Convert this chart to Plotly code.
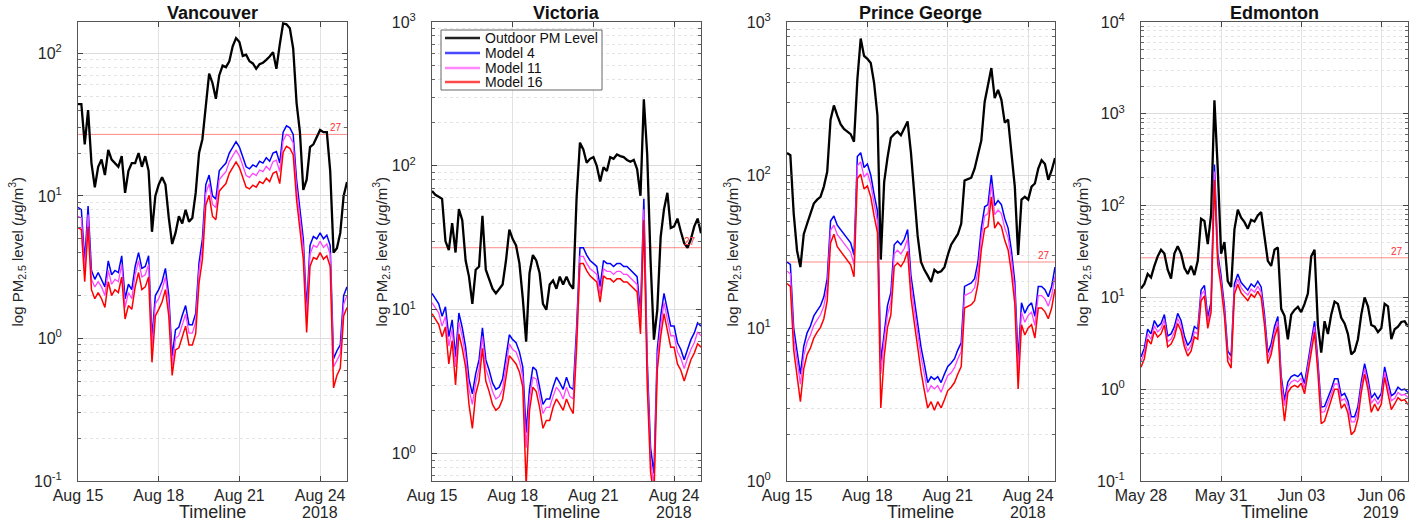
import math
import pandas as pd
import plotly.graph_objects as go

# ---------------- data (3-hourly readings) ----------------
cities = ["Vancouver", "Victoria", "Prince George", "Edmonton"]
start_dates = ["2018-08-15", "2018-08-15", "2018-08-15", "2019-05-28"]
end_dates = ["2018-08-25", "2018-08-25", "2018-08-25", "2019-06-07"]
years = ["2018", "2018", "2018", "2019"]
step_hours = 3
threshold = 27

tick_dates = [
    ["2018-08-15", "2018-08-18", "2018-08-21", "2018-08-24"],
    ["2018-08-15", "2018-08-18", "2018-08-21", "2018-08-24"],
    ["2018-08-15", "2018-08-18", "2018-08-21", "2018-08-24"],
    ["2019-05-28", "2019-05-31", "2019-06-03", "2019-06-06"],
]
tick_labels = [
    ["Aug 15", "Aug 18", "Aug 21", "Aug 24"],
    ["Aug 15", "Aug 18", "Aug 21", "Aug 24"],
    ["Aug 15", "Aug 18", "Aug 21", "Aug 24"],
    ["May 28", "May 31", "Jun 03", "Jun 06"],
]
y_log_ranges = [(-1, 2.22), (-0.19, 3), (0, 3), (-1, 4)]

van_outdoor = [44, 44, 23, 40, 17, 11.5, 16, 18, 14, 21, 18, 17, 16, 19, 10.5, 15, 17, 17, 20, 16,
               19, 15, 5.6, 10, 12, 13.5, 12, 7, 4.6, 5.5, 7.2, 6.4, 8, 6.6, 7, 10.5, 20, 25, 45, 72,
               62, 48, 70, 82, 80, 88, 112, 128, 120, 96, 98, 88, 85, 78, 84, 86, 90, 95, 102, 78,
               115, 162, 160, 150, 108, 45, 28, 11, 13, 22, 23, 26, 29, 28, 28, 15, 4.0, 4.3, 5.5, 10, 12.5]
van_m4 = [8.3, 8.0, 3.5, 8.5, 3.0, 2.6, 2.9, 2.6, 2.3, 3.5, 2.8, 3.0, 2.9, 3.8, 1.9, 2.4, 2.2, 3.2, 4.0, 3.1,
          3.2, 3.8, 1.0, 2.0, 2.2, 2.5, 3.1, 2.0, 0.75, 1.15, 1.2, 1.45, 1.7, 1.25, 1.25, 1.5, 3.4, 5.0, 12, 14,
          10, 9.5, 15, 16, 17, 20, 22, 24, 22, 18.5, 16, 15.5, 16.5, 16, 17.5, 17, 18.5, 17.5, 20, 20.5,
          17, 28, 31, 30, 27, 13, 8, 5, 1.6, 4.5, 5.2, 5.0, 5.5, 5.0, 5.3, 4.5, 0.72, 0.82, 0.9, 2.0, 2.3]
van_m11 = [7.2, 7.0, 3.0, 7.4, 2.6, 2.3, 2.5, 2.3, 2.0, 3.0, 2.4, 2.6, 2.5, 3.3, 1.65, 2.1, 1.9, 2.8, 3.5, 2.7,
           2.8, 3.3, 0.87, 1.75, 1.9, 2.2, 2.7, 1.75, 0.65, 1.0, 1.05, 1.26, 1.48, 1.09, 1.09, 1.3, 3.0, 4.35, 10.4, 12.2,
           8.7, 8.3, 13, 13.9, 14.8, 17.4, 19.1, 20.9, 19.1, 16.1, 13.9, 13.5, 14.4, 13.9, 15.2, 14.8, 16.1, 15.2, 17.4, 17.8,
           14.8, 24.4, 27, 26.1, 23.5, 11.3, 7.0, 4.35, 1.39, 3.9, 4.5, 4.35, 4.8, 4.35, 4.6, 3.9, 0.63, 0.71, 0.78, 1.74, 2.0]
van_m16 = [6.0, 5.8, 2.5, 6.1, 2.2, 1.9, 2.1, 1.9, 1.65, 2.5, 2.0, 2.2, 2.1, 2.7, 1.37, 1.7, 1.6, 2.3, 2.9, 2.2,
           2.3, 2.7, 0.68, 1.44, 1.6, 1.8, 2.2, 1.44, 0.55, 0.83, 0.86, 1.04, 1.22, 0.9, 0.9, 1.08, 2.45, 3.6, 8.6, 10.1,
           7.2, 6.8, 10.8, 11.5, 12.2, 14.4, 15.8, 17.3, 15.8, 13.3, 11.5, 11.2, 11.9, 11.5, 12.6, 12.2, 13.3, 12.6, 14.4, 14.8,
           12.2, 20.2, 22.3, 21.6, 19.4, 9.4, 5.8, 3.6, 1.1, 3.2, 3.7, 3.6, 4.0, 3.6, 3.8, 3.2, 0.45, 0.55, 0.62, 1.44, 1.65]

vic_outdoor = [67, 63, 61, 59, 30, 26, 40, 25, 50, 42, 22, 17, 11, 19, 20, 45, 19, 16, 14, 13,
               14, 15, 22, 36, 31, 28, 21, 12, 6, 18, 24, 22, 18, 11, 10, 15, 16, 14, 17, 15,
               17, 15, 14, 60, 145, 130, 105, 112, 115, 100, 78, 98, 92, 115, 112, 120, 117, 115, 110, 107,
               110, 95, 62, 290, 120, 22, 6.2, 10, 32, 50, 65, 37, 38, 43, 35, 29, 27, 31, 38, 43, 34]
vic_m4 = [13, 12, 11, 9, 10.5, 6.5, 8.5, 4.7, 9.5, 7.5, 5.5, 3.3, 2.6, 3.6, 4.5, 7.5, 4.5, 3.8, 3.1, 2.8,
          2.9, 3.3, 4.7, 6.7, 6.2, 5.9, 5.1, 4.0, 1.4, 2.8, 4.0, 3.8, 2.9, 2.2, 2.4, 2.4, 2.9, 3.4, 3.1, 2.8,
          3.4, 2.9, 2.8, 7.5, 27, 27, 24, 22, 21, 20, 14.5, 22, 21, 21, 20, 21, 21, 20, 20, 19,
          18, 17, 9.5, 59, 4.5, 1.1, 0.73, 5.3, 9, 13, 10, 7.7, 7.7, 5.9, 5.3, 4.5, 5.3, 6.2, 6.9, 8.1, 7.7]
vic_m11 = [11.2, 10.3, 9.5, 7.7, 9.0, 5.6, 7.3, 4.0, 8.2, 6.5, 4.7, 2.8, 2.2, 3.1, 3.9, 6.5, 3.9, 3.3, 2.7, 2.4,
           2.5, 2.8, 4.0, 5.8, 5.3, 5.1, 4.4, 3.4, 1.1, 2.4, 3.4, 3.3, 2.5, 1.9, 2.1, 2.1, 2.5, 2.9, 2.7, 2.4,
           2.9, 2.5, 2.4, 6.5, 23.5, 23.5, 21, 19.3, 18.5, 17.6, 12.8, 19.3, 18.5, 18.5, 17.6, 18.5, 18.5, 17.6, 17.6, 16.7,
           15.8, 15, 8.2, 50, 3.9, 0.9, 0.6, 4.6, 7.7, 11.2, 8.6, 6.6, 6.6, 5.1, 4.6, 3.9, 4.6, 5.3, 5.9, 7.0, 6.6]
vic_m16 = [9.4, 8.6, 7.9, 6.5, 7.6, 4.2, 6.1, 3.0, 6.8, 5.4, 4.0, 2.2, 1.5, 2.6, 3.2, 5.4, 3.2, 2.7, 2.2, 2.0,
           2.1, 2.4, 3.4, 4.8, 4.5, 4.2, 3.7, 2.9, 0.6, 2.0, 2.9, 2.7, 2.1, 1.5, 1.7, 1.7, 2.1, 2.4, 2.2, 2.0,
           2.4, 2.1, 1.9, 5.4, 21, 21, 18.7, 17.2, 16.4, 15.6, 11.3, 17.2, 16.4, 16.4, 15.6, 16.4, 16.4, 15.6, 15.6, 14.8,
           14, 13.3, 6.8, 42, 3.0, 0.75, 0.5, 3.8, 6.5, 9.4, 7.2, 5.5, 5.5, 4.2, 3.8, 3.2, 3.8, 4.5, 5.0, 5.8, 5.5]

pg_outdoor = [139, 135, 56, 32, 25, 41, 48, 56, 65, 69, 72, 84, 105, 230, 285, 245, 215, 200, 192, 185,
              165, 420, 780, 600, 575, 540, 400, 245, 28, 90, 130, 175, 185, 192, 182, 200, 224, 140, 72, 40,
              27, 24, 22, 20, 24, 23, 23.5, 25, 30, 35, 38, 41, 48, 92, 94, 96, 110, 135, 168, 300,
              385, 500, 318, 360, 310, 220, 230, 132, 84, 30, 69, 72, 69, 84, 88, 110, 125, 118, 93, 107, 129]
pg_m4 = [27, 26, 10, 7.2, 5.0, 7.6, 9.3, 10.3, 12, 13, 14, 16, 21, 50, 54, 47, 44, 41, 38, 36,
         30, 132, 140, 112, 118, 100, 75, 58, 6, 9.5, 14, 17, 35, 37, 35, 38, 44, 22, 15, 10.5,
         7.5, 5.8, 4.4, 4.8, 4.6, 4.8, 4.4, 5.0, 5.6, 5.9, 6.3, 7.2, 8, 18.7, 19.2, 19.7, 21, 27, 45, 62,
         64, 100, 63, 68, 64, 52, 45, 32, 20, 6.2, 14.6, 12.5, 13.9, 14.6, 11.9, 18.7, 18.7, 17.8, 16, 18.7, 25]
pg_m11 = [23.5, 22.6, 8.7, 6.3, 4.3, 6.6, 8.1, 9.0, 10.4, 11.3, 12.2, 13.9, 18.3, 43.5, 47, 40.9, 38.3, 35.7, 33.1, 31.3,
          26.1, 115, 122, 97, 103, 87, 65, 50, 5.0, 8.3, 12.2, 14.8, 30.5, 32.2, 30.5, 33.1, 38.3, 19.1, 13.1, 9.1,
          6.5, 5.0, 3.8, 4.2, 4.0, 4.2, 3.8, 4.35, 4.9, 5.1, 5.5, 6.3, 7.0, 16.3, 16.7, 17.1, 18.3, 23.5, 39, 54,
          56, 87, 55, 59, 56, 45, 39, 28, 17.4, 5.2, 12.7, 10.9, 12.1, 12.7, 10.4, 16.3, 16.3, 15.5, 13.9, 16.3, 21.8]
pg_m16 = [19.5, 18.7, 7.2, 5.0, 3.3, 5.4, 6.7, 7.4, 8.6, 9.4, 10.1, 11.5, 15.1, 36, 41, 34, 31.7, 29.5, 27.4, 25.9,
          21.6, 95, 101, 81, 85, 72, 54, 42, 3.0, 6.5, 10.1, 12.2, 25.2, 26.6, 25.2, 27.4, 31.7, 15.8, 10.8, 7.4,
          5.2, 3.9, 3.0, 3.3, 2.9, 3.3, 3.0, 3.4, 3.9, 4.1, 4.4, 5.0, 5.6, 13.5, 13.8, 14.2, 15.1, 19.4, 32.4, 44.6,
          46, 72, 45, 49, 46, 37.4, 32.4, 23, 14.4, 4.0, 10.5, 9.0, 10.0, 10.5, 8.6, 13.5, 13.5, 12.8, 11.5, 13.5, 18]

edm_outdoor = [12.5, 14, 18, 16.5, 22, 28, 33, 30, 20, 16, 30, 36, 30, 21, 18, 22, 17.5, 25, 72, 68,
               38, 80, 1400, 250, 30, 40, 15, 13, 55, 90, 74, 66, 56, 70, 67, 78, 85, 45, 25, 22,
               33, 35, 7.5, 6.3, 3.5, 6.5, 7.3, 7.9, 6.9, 8.5, 11, 28, 33, 5, 2.5, 5.5, 4, 6.5, 9, 8.5,
               6, 5.2, 4, 2.4, 2.6, 3.5, 6.5, 10, 8, 5, 4.8, 4.2, 4.6, 8.5, 8, 3.5, 4.5, 4.8, 5.4, 5.5, 4.8]
edm_m4 = [2.25, 2.8, 4.5, 4.0, 5.6, 4.8, 5.2, 6.5, 3.8, 4.0, 4.8, 6.7, 5.6, 3.8, 3.0, 3.4, 4.8, 4.5, 12, 13.5,
          6, 9, 280, 30, 17, 8, 2.6, 2.3, 14, 18, 14.5, 13, 12, 14, 13, 15, 13, 6.5, 2.5, 3.1,
          4.8, 6.2, 1.4, 0.75, 1.2, 1.37, 1.43, 1.37, 1.5, 1.15, 2.0, 3.4, 5.5, 2.0, 0.64, 0.65, 0.8, 1.0, 1.3, 1.3,
          0.85, 0.9, 0.75, 0.5, 0.5, 0.65, 1.2, 1.9, 1.3, 0.8, 0.9, 0.78, 0.9, 1.75, 1.2, 0.85, 0.9, 1.05, 0.98, 1.0, 0.92]
edm_m11 = [2.0, 2.5, 4.0, 3.5, 4.9, 4.2, 4.6, 5.7, 3.3, 3.5, 4.2, 5.9, 4.9, 3.3, 2.6, 3.0, 4.2, 4.0, 10.6, 11.9,
           5.3, 7.9, 235, 26.4, 15, 7.0, 2.3, 2.0, 12.3, 15.8, 12.8, 11.4, 10.6, 12.3, 11.4, 13.2, 11.4, 5.7, 2.2, 2.7,
           4.2, 5.5, 1.23, 0.66, 1.06, 1.2, 1.26, 1.2, 1.32, 1.01, 1.76, 3.0, 4.8, 1.76, 0.56, 0.57, 0.7, 0.88, 1.14, 1.14,
           0.75, 0.79, 0.66, 0.44, 0.44, 0.57, 1.06, 1.67, 1.14, 0.7, 0.79, 0.69, 0.79, 1.54, 1.06, 0.75, 0.79, 0.92, 0.86, 0.88, 0.81]
edm_m16 = [1.73, 2.15, 3.5, 3.1, 4.3, 3.7, 4.0, 5.0, 2.9, 3.1, 3.7, 5.2, 4.3, 2.9, 2.3, 2.6, 3.7, 3.5, 9.2, 10.4,
           4.6, 6.9, 190, 23, 13.1, 6.2, 2.0, 1.7, 10.8, 13.9, 11.2, 10, 9.2, 10.8, 10, 11.6, 10, 5.0, 1.9, 2.4,
           3.7, 4.8, 1.0, 0.45, 0.92, 1.05, 1.1, 1.05, 1.16, 0.89, 1.54, 2.6, 4.2, 1.5, 0.42, 0.45, 0.58, 0.77, 1.0, 1.0,
           0.62, 0.69, 0.55, 0.32, 0.35, 0.48, 0.92, 1.46, 1.0, 0.56, 0.69, 0.58, 0.69, 1.35, 0.92, 0.6, 0.69, 0.81, 0.75, 0.77, 0.68]

outdoor = [van_outdoor, vic_outdoor, pg_outdoor, edm_outdoor]
model4 = [van_m4, vic_m4, pg_m4, edm_m4]
model11 = [van_m11, vic_m11, pg_m11, edm_m11]
model16 = [van_m16, vic_m16, pg_m16, edm_m16]

series_names = ["Outdoor PM Level", "Model 4", "Model 11", "Model 16"]
series_colors = ["#000000", "#0000ff", "#ff44ff", "#ff0000"]
legend_colors = ["#222222", "#4848ff", "#ff88ff", "#ff4848"]
series_widths = [2.3, 1.5, 1.3, 1.5]

# ---------------- layout geometry (pixels) ----------------
W, H = 1421, 524
plot_left = [78, 432, 787, 1141]
plot_right = [347, 701, 1055, 1408]
plot_top, plot_bottom = 22, 481
ylabel_x = [17, 381, 732, 1082]
legend_box = (441, 30, 602, 90)          # x0, y0, x1, y1 (px from top-left)
legend_row_y = [38, 53, 68, 82]

FONT = "Liberation Sans, Arial, Helvetica, sans-serif"
TXT = "#262626"


def px(x):
    return x / W


def py(y):
    return (H - y) / H


fig = go.Figure()
annotations = []
shapes = []
layout = dict(
    width=W, height=H,
    margin=dict(l=0, r=0, t=0, b=0, autoexpand=False),
    paper_bgcolor="white", plot_bgcolor="white",
    font=dict(family=FONT, color=TXT),
    showlegend=False,
)

for k in range(4):
    n = len(outdoor[k])
    times = pd.date_range(start_dates[k], periods=n, freq=f"{step_hours}h")
    xs = f"x{k + 1}" if k else "x"
    ys = f"y{k + 1}" if k else "y"
    xkey = f"xaxis{k + 1}" if k else "xaxis"
    ykey = f"yaxis{k + 1}" if k else "yaxis"

    # threshold line
    fig.add_trace(go.Scatter(
        x=[start_dates[k], end_dates[k]], y=[threshold, threshold], mode="lines",
        line=dict(color="rgba(255,60,60,0.6)", width=1), showlegend=False,
        hoverinfo="skip", xaxis=xs, yaxis=ys))

    for s, data in enumerate([outdoor[k], model4[k], model11[k], model16[k]]):
        fig.add_trace(go.Scatter(
            x=times, y=data, mode="lines", name=series_names[s],
            line=dict(color=series_colors[s], width=series_widths[s]),
            showlegend=False, xaxis=xs, yaxis=ys))

    x0, x1 = px(plot_left[k]), px(plot_right[k])
    y0, y1 = py(plot_bottom), py(plot_top)

    lo, hi = y_log_ranges[k]
    majors = list(range(math.ceil(lo - 1e-9), math.floor(hi + 1e-9) + 1))
    minors = []
    for e in range(math.floor(lo), math.ceil(hi) + 1):
        for m in range(2, 10):
            v = m * 10 ** e
            if lo <= math.log10(v) <= hi:
                minors.append(v)

    layout[xkey] = dict(
        domain=[x0, x1], anchor=ys, type="date", automargin=False,
        range=[start_dates[k], end_dates[k]],
        tickmode="array", tickvals=tick_dates[k], ticktext=tick_labels[k],
        ticks="inside", ticklen=5, tickcolor="#444444",
        showline=True, linecolor="#555555", linewidth=1, mirror="ticks",
        showgrid=True, gridcolor="#e2e2e2", gridwidth=1, zeroline=False,
        tickfont=dict(size=16, color=TXT, family=FONT),
        ticklabelstandoff=0,
    )
    layout[ykey] = dict(
        domain=[y0, y1], anchor=xs, type="log", range=[lo, hi], automargin=False,
        tickmode="array", tickvals=[10 ** e for e in majors],
        ticktext=[f"10<sup>{e}</sup>" for e in majors],
        ticks="inside", ticklen=5, tickcolor="#444444",
        showline=True, linecolor="#555555", linewidth=1, mirror="ticks",
        showgrid=True, gridcolor="#dcdcdc", gridwidth=1, zeroline=False,
        tickfont=dict(size=16, color=TXT, family=FONT),
        ticklabelstandoff=12,
        minor=dict(tickmode="array", tickvals=minors, ticks="inside", ticklen=3,
                   tickcolor="#666666", showgrid=True, gridcolor="#e4e4e4",
                   griddash="dot", gridwidth=1),
    )

    xc = (x0 + x1) / 2
    annotations.append(dict(text=f"<b>{cities[k]}</b>", x=xc, y=py(13),
                            xref="paper", yref="paper", showarrow=False,
                            font=dict(size=18, color="#111111", family=FONT),
                            xanchor="center", yanchor="middle"))
    annotations.append(dict(text="Timeline", x=xc, y=py(512),
                            xref="paper", yref="paper", showarrow=False,
                            font=dict(size=18, color=TXT, family=FONT),
                            xanchor="center", yanchor="middle"))
    annotations.append(dict(text=years[k], x=tick_dates[k][-1], y=py(512),
                            xref=xs, yref="paper", showarrow=False,
                            font=dict(size=16, color=TXT, family=FONT),
                            xanchor="center", yanchor="middle"))
    annotations.append(dict(text="log PM<sub>2.5</sub> level (<i>\u03bc</i>g/m<sup>3</sup>)",
                            x=px(ylabel_x[k]), y=py((plot_top + plot_bottom) / 2),
                            xref="paper", yref="paper", showarrow=False, textangle=-90,
                            font=dict(size=15, color=TXT, family=FONT),
                            xanchor="center", yanchor="middle"))
    annotations.append(dict(text=str(threshold), x=0.99, y=math.log10(threshold),
                            xref=f"{xs} domain", yref=ys, showarrow=False,
                            font=dict(size=10, color="#ff3030", family=FONT),
                            xanchor="right", yanchor="bottom", yshift=-1))

# ---------------- legend (drawn in the Victoria panel) ----------------
bx0, by0, bx1, by1 = legend_box
shapes.append(dict(type="rect", xref="paper", yref="paper",
                   x0=px(bx0), x1=px(bx1), y0=py(by1), y1=py(by0),
                   line=dict(color="#666666", width=1), fillcolor="white", layer="above"))
for s in range(4):
    shapes.append(dict(type="line", xref="paper", yref="paper",
                       x0=px(bx0 + 4), x1=px(bx0 + 39), y0=py(legend_row_y[s]), y1=py(legend_row_y[s]),
                       line=dict(color=legend_colors[s], width=2.5), layer="above"))
    annotations.append(dict(text=series_names[s], x=px(bx0 + 42), y=py(legend_row_y[s]),
                            xref="paper", yref="paper", showarrow=False,
                            font=dict(size=14, color="#111111", family=FONT),
                            xanchor="left", yanchor="middle"))

layout["annotations"] = annotations
layout["shapes"] = shapes
fig.update_layout(**layout)
fig.write_html("out.html",
               config={"displayModeBar": False},
               post_script="document.body.style.margin='0';document.body.style.overflow='hidden';")
